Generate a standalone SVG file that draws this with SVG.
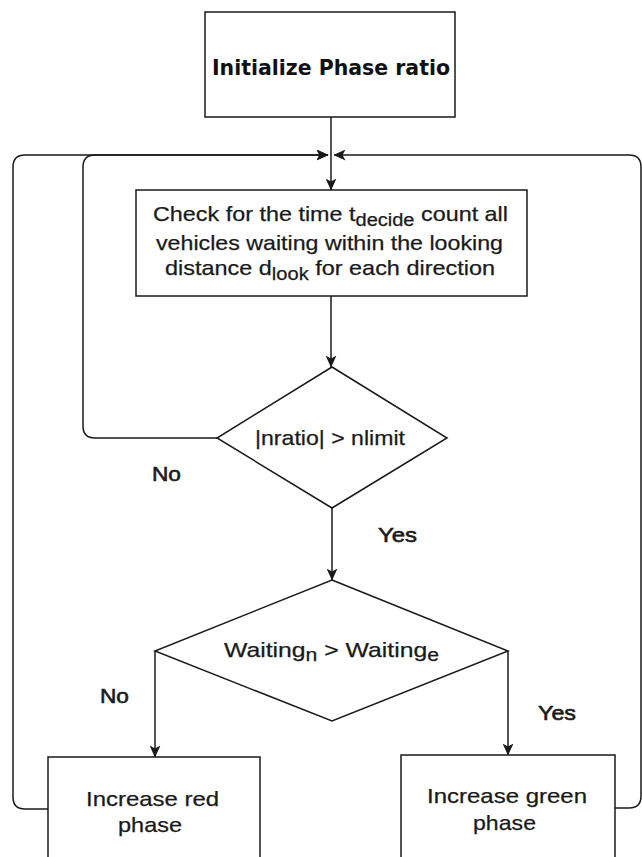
<svg xmlns="http://www.w3.org/2000/svg" width="642" height="857" viewBox="0 0 642 857">
  <style>
    .shape { fill: #ffffff; stroke: #1a1a1a; stroke-width: 1.5; }
    .edge { fill: none; stroke: #1a1a1a; stroke-width: 1.5; }
    .lbl { font-family: "Liberation Sans", Arial, sans-serif; font-size: 21px; fill: #1a1a1a; stroke: #1a1a1a; stroke-width: 0.25; }
    .edge-lbl { stroke-width: 0.6; }
    .title { font-family: "DejaVu Sans", Verdana, sans-serif; font-size: 21px; font-weight: bold; fill: #111111; }
    .sub { font-size: 18px; }
  </style>
  <defs>
    <marker id="arrow" viewBox="0 0 12 11" refX="11.5" refY="5.5" markerWidth="12" markerHeight="11" markerUnits="userSpaceOnUse" orient="auto">
      <path d="M0,0 L12,5.5 L0,11 L3,5.5 Z" fill="#1a1a1a"/>
    </marker>
  </defs>
  <rect width="642" height="857" fill="#ffffff"/>

  <g id="connectors">
    <path class="edge" d="M331,117 V190" marker-end="url(#arrow)"/>
    <path class="edge" d="M331,296 V367" marker-end="url(#arrow)"/>
    <path class="edge" d="M332,508 V580" marker-end="url(#arrow)"/>
    <path class="edge" d="M155,651 V757" marker-end="url(#arrow)"/>
    <path class="edge" d="M508,651 V755" marker-end="url(#arrow)"/>
    <!-- No branch of the first decision loops back to the check step -->
    <path class="edge" d="M217,438 H95 Q83,438 83,426 V167 Q83,155 95,155 H328" marker-end="url(#arrow)"/>
    <!-- feedback from the red phase -->
    <path class="edge" d="M48,809 H25 Q13,809 13,797 V167 Q13,155 25,155 H328" marker-end="url(#arrow)"/>
    <!-- feedback from the green phase -->
    <path class="edge" d="M615,808 H629 Q641,808 641,796 V167 Q641,155 629,155 H334" marker-end="url(#arrow)"/>
    <text class="lbl edge-lbl" x="152" y="481" textLength="29" lengthAdjust="spacingAndGlyphs">No</text>
    <text class="lbl edge-lbl" x="378" y="542" textLength="39" lengthAdjust="spacingAndGlyphs">Yes</text>
    <text class="lbl edge-lbl" x="100" y="703" textLength="29" lengthAdjust="spacingAndGlyphs">No</text>
    <text class="lbl edge-lbl" x="538" y="720" textLength="38" lengthAdjust="spacingAndGlyphs">Yes</text>
  </g>

  <g id="init">
    <rect class="shape" x="205" y="12" width="250" height="105"/>
    <text class="title" x="212" y="75" textLength="238" lengthAdjust="spacingAndGlyphs">Initialize Phase ratio</text>
  </g>

  <g id="check">
    <rect class="shape" x="136" y="190" width="391" height="106"/>
    <text class="lbl" x="153" y="221" textLength="355" lengthAdjust="spacingAndGlyphs">Check for the time t<tspan class="sub" dy="5">decide</tspan><tspan dy="-5"> count all</tspan></text>
    <text class="lbl" x="156" y="250" textLength="347" lengthAdjust="spacingAndGlyphs">vehicles waiting within the looking</text>
    <text class="lbl" x="165" y="275" textLength="330" lengthAdjust="spacingAndGlyphs">distance d<tspan class="sub" dy="5">look</tspan><tspan dy="-5"> for each direction</tspan></text>
  </g>

  <g id="ratio-decision">
    <polygon class="shape" points="332,367 447,438 332,508 217,438"/>
    <text class="lbl" x="255" y="445" textLength="150" lengthAdjust="spacingAndGlyphs">|nratio| &gt; nlimit</text>
  </g>

  <g id="waiting-decision">
    <polygon class="shape" points="332,580 508,651 332,721 155,651"/>
    <text class="lbl" x="224" y="657" textLength="215" lengthAdjust="spacingAndGlyphs">Waiting<tspan class="sub" dy="4">n</tspan><tspan dy="-4"> &gt; Waiting</tspan><tspan class="sub" dy="4">e</tspan></text>
  </g>

  <g id="red-phase">
    <rect class="shape" x="48" y="757" width="212" height="120"/>
    <text class="lbl" x="86" y="806" textLength="133" lengthAdjust="spacingAndGlyphs">Increase red</text>
    <text class="lbl" x="118" y="832" textLength="64" lengthAdjust="spacingAndGlyphs">phase</text>
  </g>

  <g id="green-phase">
    <rect class="shape" x="401" y="755" width="214" height="120"/>
    <text class="lbl" x="427" y="803" textLength="160" lengthAdjust="spacingAndGlyphs">Increase green</text>
    <text class="lbl" x="473" y="830" textLength="63" lengthAdjust="spacingAndGlyphs">phase</text>
  </g>
</svg>
